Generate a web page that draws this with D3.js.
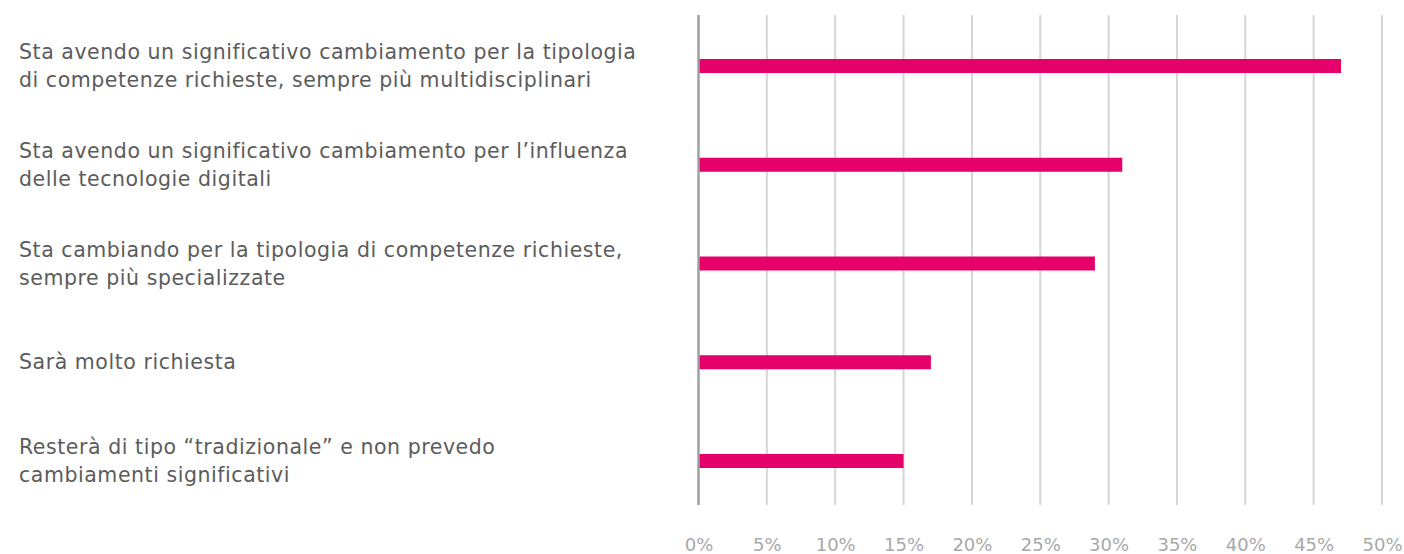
<!DOCTYPE html>
<html>
<head>
<meta charset="utf-8">
<script src="https://cdn.jsdelivr.net/npm/d3@7"></script>
<style>
  body { margin: 0; background: #fff; }
  svg { display: block; }
  .lbl { font-family: "DejaVu Sans", sans-serif; font-size: 20.5px; letter-spacing: 0.55px; fill: #5c5c5c; }
  .tick text { font-family: "DejaVu Sans", sans-serif; font-size: 18px; fill: #a8a8a8; }
</style>
</head>
<body>
<div id="chart"></div>
<script>
var categories = [
  ["Sta avendo un significativo cambiamento per la tipologia", "di competenze richieste, sempre più multidisciplinari"],
  ["Sta avendo un significativo cambiamento per l’influenza", "delle tecnologie digitali"],
  ["Sta cambiando per la tipologia di competenze richieste,", "sempre più specializzate"],
  ["Sarà molto richiesta"],
  ["Resterà di tipo “tradizionale” e non prevedo", "cambiamenti significativi"]
];
var values = [47, 31, 29, 17, 15];
var ticks = [0, 5, 10, 15, 20, 25, 30, 35, 40, 45, 50];

var width = 1404, height = 554;
var margin = {top: 15, left: 698.5, right: 22, bottom: 49};
var barH = 14;

var svg = d3.select("#chart").append("svg")
  .attr("width", width)
  .attr("height", height);

var x = d3.scaleLinear()
  .domain([0, 50])
  .range([margin.left, width - margin.right]);

// bar centres
var y = d3.scalePoint()
  .domain(d3.range(categories.length))
  .range([66, 461]);

// gridlines
svg.append("g")
  .selectAll("line")
  .data(ticks.slice(1))
  .enter().append("line")
  .attr("x1", d => x(d)).attr("x2", d => x(d))
  .attr("y1", margin.top).attr("y2", height - margin.bottom)
  .attr("stroke", "#d6d6d6")
  .attr("stroke-width", 2);

// bars
svg.append("g")
  .selectAll("rect")
  .data(values)
  .enter().append("rect")
  .attr("x", x(0))
  .attr("y", (d, i) => y(i) - barH / 2)
  .attr("width", d => x(d) - x(0))
  .attr("height", barH)
  .attr("fill", "#e5006a");

// baseline axis
svg.append("line")
  .attr("x1", x(0)).attr("x2", x(0))
  .attr("y1", margin.top).attr("y2", height - margin.bottom)
  .attr("stroke", "#a0a0a0")
  .attr("stroke-width", 2.5);

// x axis labels
var xAxis = d3.axisBottom(x)
  .tickValues(ticks)
  .tickFormat(d => d + "%")
  .tickSize(0)
  .tickPadding(0);

svg.append("g")
  .attr("transform", "translate(0,538)")
  .call(xAxis)
  .call(g => g.select(".domain").remove());

// category labels
var lineH = 28;
svg.append("g")
  .selectAll("text")
  .data(categories)
  .enter().append("text")
  .attr("class", "lbl")
  .attr("y", (d, i) => y(i) - (d.length - 1) * lineH / 2 + 7)
  .each(function(d) {
    var t = d3.select(this);
    d.forEach(function(line, k) {
      t.append("tspan")
        .attr("x", 19)
        .attr("dy", k === 0 ? 0 : lineH)
        .text(line);
    });
  });
</script>
</body>
</html>
